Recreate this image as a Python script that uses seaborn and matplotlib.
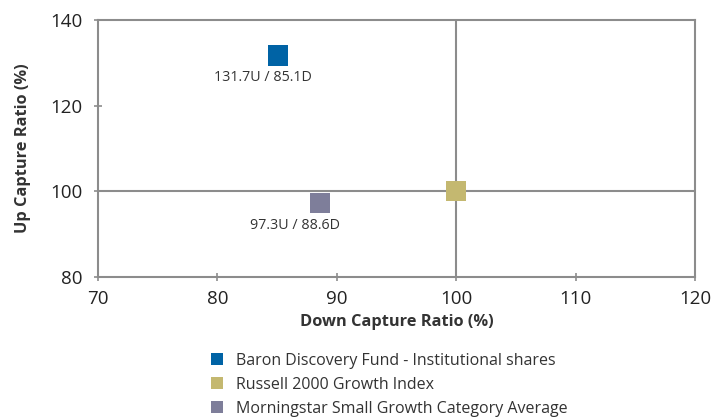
import matplotlib
matplotlib.use("Agg")
import matplotlib.pyplot as plt
import seaborn as sns
import pandas as pd

names = ["Baron Discovery Fund - Institutional shares",
         "Russell 2000 Growth Index",
         "Morningstar Small Growth Category Average"]
down_capture = [85.1, 100.0, 88.6]
up_capture = [131.7, 100.0, 97.3]
labels = ["131.7U / 85.1D", "", "97.3U / 88.6D"]
colors = ["#0063A5", "#C4B870", "#7E7E9A"]
x_ticks = [70, 80, 90, 100, 110, 120]
y_ticks = [80, 100, 120, 140]

sns.set_theme(style="white")
plt.rcParams['font.family'] = ['Open Sans', 'DejaVu Sans']

df = pd.DataFrame({"name": names, "down": down_capture, "up": up_capture})

fig = plt.figure(figsize=(7.12, 4.2), dpi=100)
ax = fig.add_axes([98/712, 1-277/420, (695-98)/712, (277-20)/420])

gray = "#8C8C8C"
ax.axvline(100, color=gray, lw=1.5, zorder=1)
ax.axhline(100, color=gray, lw=1.5, zorder=1)

sns.scatterplot(data=df, x="down", y="up", hue="name", palette=colors,
                hue_order=names, marker="s", s=210, linewidth=0, ax=ax,
                zorder=3, legend=True)

offsets = [(-11, -15.5), (0, 0), (-18, -16.5)]
for lab, x, y, off in zip(labels, down_capture, up_capture, offsets):
    if lab:
        ax.annotate(lab, (x, y), xytext=off, textcoords="offset points",
                    ha="center", va="center", fontsize=10.3, color="#333333")

ax.set_xlim(70, 120)
ax.set_ylim(80, 140)
ax.set_xticks(x_ticks)
ax.set_yticks(y_ticks)
ax.tick_params(axis="both", labelsize=13.5, labelcolor="#222222", length=6,
               width=1.2, direction="inout", bottom=True, left=True,
               color=gray)
ax.tick_params(axis="x", pad=6)
ax.tick_params(axis="y", pad=8)
for sp in ax.spines.values():
    sp.set_color(gray)
    sp.set_linewidth(1.5)

ax.set_xlabel("Down Capture Ratio (%)", fontsize=11.8, fontweight="bold",
              color="#333333", labelpad=5)
ax.set_ylabel("Up Capture Ratio (%)", fontsize=11.8, fontweight="bold",
              color="#333333", labelpad=14)

handles, lbls = ax.get_legend_handles_labels()
ax.get_legend().remove()
for h in handles:
    try:
        h.set_markersize(9)
    except Exception:
        pass
leg = fig.legend(handles, lbls, loc="upper left",
                 bbox_to_anchor=(211/712, 1-353/420), frameon=False,
                 fontsize=11.5, handlelength=0.8, handletextpad=0.75,
                 labelspacing=0.5, borderaxespad=0, borderpad=0)
for t in leg.get_texts():
    t.set_color("#333333")

fig.savefig("out.png", dpi=100)
